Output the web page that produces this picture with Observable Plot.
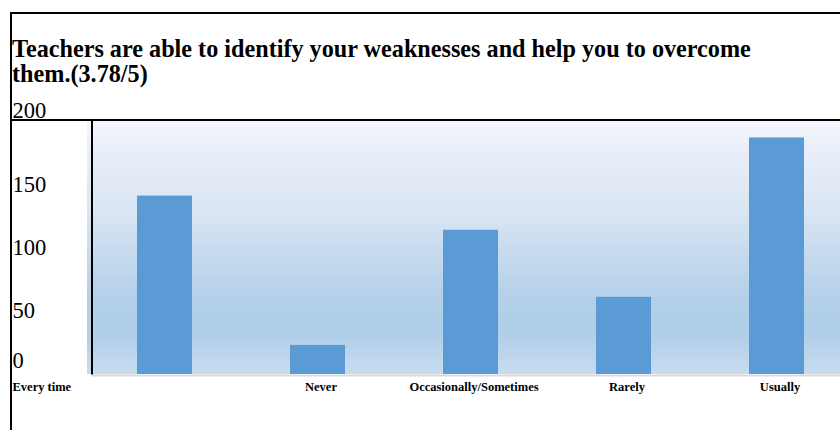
<!DOCTYPE html>
<html>
<head>
<meta charset="utf-8">
<script src="https://cdn.jsdelivr.net/npm/d3@7"></script>
<script src="https://cdn.jsdelivr.net/npm/@observablehq/plot@0.6"></script>
<style>
  html, body { margin: 0; padding: 0; background: #fff; width: 840px; height: 430px; overflow: hidden; }
  #box { position: absolute; left: 10px; top: 12px; width: 1000px; height: 600px;
         border-left: 2px solid #000; border-top: 2px solid #000; }
  #title { font-family: "Liberation Serif", "Times New Roman", serif; font-weight: bold;
           font-size: 24.2px; line-height: 25px; padding-top: 21.5px; width: 820px; color: #000; }
  #chart svg { display: block; overflow: visible; }
</style>
</head>
<body>
<div id="box">
  <div id="title">Teachers are able to identify your weaknesses and help you to overcome<br>them.(3.78/5)</div>
  <div id="chart"></div>
</div>
<script>
const categories = ["Every time", "Never", "Occasionally/Sometimes", "Rarely", "Usually"];
const counts = [141, 23, 114, 61, 187];
const yTicks = [0, 50, 100, 150, 200];

const data = categories.map((c, i) => ({category: c, count: counts[i]}));
const serif = "Liberation Serif, Times New Roman, serif";

function backdrop(index, scales, values, dims) {
  const g = d3.create("svg:g");
  const lg = g.append("defs").append("linearGradient")
    .attr("id", "bgGrad").attr("x1", 0).attr("y1", 0).attr("x2", 0).attr("y2", 1);
  [[0, "#f4f7fa"], [0.1, "#eaeff9"], [0.35, "#dae6f3"], [0.7, "#b3cfe9"], [0.85, "#b1cfea"], [1, "#c9dcef"]]
    .forEach(([o, c]) => lg.append("stop").attr("offset", o).attr("stop-color", c));
  const y0 = scales.y(yTicks[0]), y1 = scales.y(yTicks[yTicks.length - 1]);
  g.append("rect")
    .attr("x", dims.marginLeft - 1).attr("y", y1)
    .attr("width", dims.width - dims.marginLeft + 40).attr("height", y0 - y1)
    .attr("fill", "url(#bgGrad)");
  return g.node();
}

function lines(index, scales, values, dims) {
  const g = d3.create("svg:g");
  const y0 = scales.y(yTicks[0]), y1 = scales.y(yTicks[yTicks.length - 1]);
  g.append("line").attr("x1", dims.marginLeft + 4).attr("x2", dims.width + 40)
    .attr("y1", y0 + 1.5).attr("y2", y0 + 1.5).attr("stroke", "#d9d9d9").attr("stroke-width", 2);
  g.append("line").attr("x1", 0).attr("x2", dims.width + 40)
    .attr("y1", y1 - 1).attr("y2", y1 - 1).attr("stroke", "#000").attr("stroke-width", 2);
  g.append("line").attr("x1", dims.marginLeft + 4).attr("x2", dims.marginLeft + 4)
    .attr("y1", y1).attr("y2", y0 + 0.5).attr("stroke", "#000").attr("stroke-width", 2);
  return g.node();
}

const yLabel = (ticks, dy) => Plot.text(ticks, {
  y: d => d, text: d => String(d), frameAnchor: "left", textAnchor: "start",
  dx: -76, dy, fontSize: 22.5, fontFamily: serif, fill: "#000"
});

const plot = Plot.plot({
  width: 841,
  height: 344,
  marginLeft: 76,
  marginRight: 0,
  marginTop: 35,
  marginBottom: 56,
  style: {background: "transparent", overflow: "visible"},
  x: {domain: categories, padding: 0, axis: null},
  y: {domain: [0, 200], axis: null},
  marks: [
    backdrop,
    Plot.barY(data, {x: "category", y: "count", fill: "#5b9bd5", insetLeft: 49, insetRight: 49}),
    lines,
    yLabel(yTicks.filter(t => t > 0 && t < 200), 0),
    yLabel([yTicks[0]], -14),
    yLabel([yTicks[yTicks.length - 1]], -11),
    Plot.text(categories.slice(1), {
      x: d => d, text: d => d, frameAnchor: "bottom", dy: 16, dx: 3,
      fontSize: 12.5, fontWeight: "bold", fontFamily: serif, fill: "#000"
    }),
    Plot.text([categories[0]], {
      text: d => d, frameAnchor: "bottom-left", textAnchor: "start", dx: -76, dy: 16,
      fontSize: 12.5, fontWeight: "bold", fontFamily: serif, fill: "#000"
    })
  ]
});
document.getElementById("chart").appendChild(plot);
</script>
</body>
</html>
